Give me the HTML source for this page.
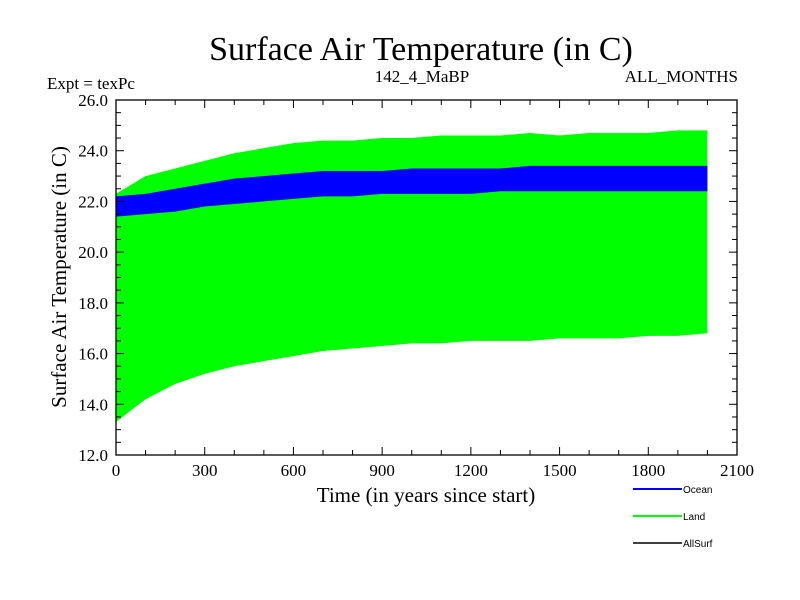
<!DOCTYPE html>
<html><head><meta charset="utf-8"><style>body{margin:0;background:#fff}svg{display:block}text{font-family:"Liberation Serif",serif}</style></head>
<body>
<svg width="800" height="600" id="c">
<text x="421" y="60" font-size="34" text-anchor="middle">Surface Air Temperature (in C)</text>
<text x="47" y="89" font-size="17">Expt = texPc</text>
<text x="422" y="82" font-size="17" text-anchor="middle">142_4_MaBP</text>
<text x="738" y="82" font-size="17" text-anchor="end">ALL_MONTHS</text>
<text x="426" y="502" font-size="21" text-anchor="middle">Time (in years since start)</text>
<text transform="translate(66,277) rotate(-90)" font-size="21" text-anchor="middle">Surface Air Temperature (in C)</text>
<g id="plot"></g>
<g>
<line x1="633" y1="489" x2="682" y2="489" stroke="#0000ff" stroke-width="2"/>
<text x="683" y="493" font-size="10" style="font-family:'Liberation Sans',sans-serif">Ocean</text>
<line x1="633" y1="516" x2="682" y2="516" stroke="#00ff00" stroke-width="2"/>
<text x="683" y="520" font-size="10" style="font-family:'Liberation Sans',sans-serif">Land</text>
<line x1="633" y1="543" x2="682" y2="543" stroke="#000" stroke-width="1.5"/>
<text x="683" y="547" font-size="10" style="font-family:'Liberation Sans',sans-serif">AllSurf</text>
</g>
</svg>
<script>
const years=[0,100,200,300,400,500,600,700,800,900,1000,1100,1200,1300,1400,1500,1600,1700,1800,1900,2000];
const landUpper=[22.3,23.0,23.3,23.6,23.9,24.1,24.3,24.4,24.4,24.5,24.5,24.6,24.6,24.6,24.7,24.6,24.7,24.7,24.7,24.8,24.8];
const landLower=[13.3,14.2,14.8,15.2,15.5,15.7,15.9,16.1,16.2,16.3,16.4,16.4,16.5,16.5,16.5,16.6,16.6,16.6,16.7,16.7,16.8];
const oceanUpper=[22.2,22.3,22.5,22.7,22.9,23.0,23.1,23.2,23.2,23.2,23.3,23.3,23.3,23.3,23.4,23.4,23.4,23.4,23.4,23.4,23.4];
const oceanLower=[21.4,21.5,21.6,21.8,21.9,22.0,22.1,22.2,22.2,22.3,22.3,22.3,22.3,22.4,22.4,22.4,22.4,22.4,22.4,22.4,22.4];
const xTicks=[0,300,600,900,1200,1500,1800,2100];
const yTicks=[12,14,16,18,20,22,24,26];
const L=116,R=737,T=100,B=455;
const xs=t=>L+t/2100*(R-L), ys=v=>B-(v-12)/14*(B-T);
const NS='http://www.w3.org/2000/svg', g=document.getElementById('plot');
function mk(tag,a){const e=document.createElementNS(NS,tag);for(const k in a)e.setAttribute(k,a[k]);g.appendChild(e);return e;}
function band(up,lo,col,name){
 let p=years.map((t,i)=>xs(t)+','+ys(up[i]));
 p=p.concat(years.map((t,i)=>xs(t)+','+ys(lo[i])).reverse());
 const e=mk('polygon',{points:p.join(' '),fill:col});
 
 
}
band(landUpper,landLower,'#00ff00','land-series');
band(oceanUpper,oceanLower,'#0000ff','ocean-series');
const fr=mk('rect',{x:L,y:T,width:R-L,height:B-T,fill:'none',stroke:'#000','stroke-width':1.3});


for(let t=0;t<=2100;t+=100){const maj=t%300==0,l=maj?8:5;
 mk('line',{x1:xs(t),x2:xs(t),y1:B,y2:B-l,stroke:'#000'});mk('line',{x1:xs(t),x2:xs(t),y1:T,y2:T+l,stroke:'#000'});}
for(let v=12;v<=26;v+=0.5){const maj=v%2==0,l=maj?8:5;
 mk('line',{x1:L,x2:L+l,y1:ys(v),y2:ys(v),stroke:'#000'});mk('line',{x1:R,x2:R-l,y1:ys(v),y2:ys(v),stroke:'#000'});}
xTicks.forEach(t=>{const e=mk('text',{x:xs(t),y:476,'font-size':17,'text-anchor':'middle'});e.textContent=t;
 
 });
yTicks.forEach(v=>{const e=mk('text',{x:108,y:ys(v)+6,'font-size':17,'text-anchor':'end'});e.textContent=v.toFixed(1);
 
 });
</script>
</body></html>
